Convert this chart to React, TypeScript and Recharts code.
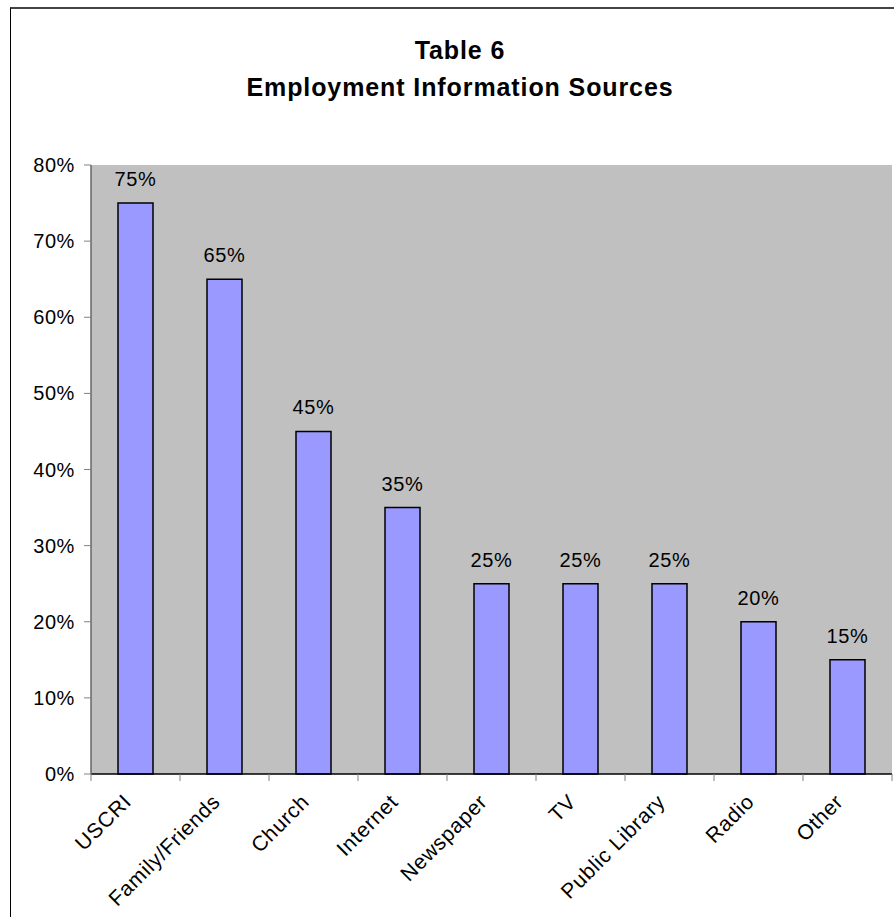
import { BarChart, Bar, XAxis, YAxis, CartesianGrid, LabelList } from 'recharts'

const sources = ['USCRI', 'Family/Friends', 'Church', 'Internet', 'Newspaper', 'TV', 'Public Library', 'Radio', 'Other']
const shares = [75, 65, 45, 35, 25, 25, 25, 20, 15]
const yTicks = [0, 10, 20, 30, 40, 50, 60, 70, 80]

const font = '"Liberation Sans", Arial, sans-serif'

const data = sources.map((name, i) => ({ name, value: shares[i] }))

// label rotated -45deg, plus tick marks on the category edges (excel style)
const SourceTick = (props: any) => {
	const { x, y, payload, index } = props
	const half = payload.offset || 0
	const px = x - 3
	const py = y + 29
	return (
		<g>
			<line x1={x - half} x2={x - half} y1={y} y2={y + 7} stroke="#808080" />
			{index === sources.length - 1 && <line x1={x + half} x2={x + half} y1={y} y2={y + 7} stroke="#808080" />}
			<text
				x={px}
				y={py}
				transform={`rotate(-45, ${px}, ${py})`}
				textAnchor="end"
				fontSize={21}
				letterSpacing={0.7}
				fontFamily={font}
				fill="#000"
			>
				{payload.value}
			</text>
		</g>
	)
}

const App = () => {
	return (
		<div style={{ position: 'relative', width: 894, height: 917, overflow: 'hidden', background: '#fff' }}>
			<style>{'body{margin:0;overflow:hidden}'}</style>
			{/* outer frame, only top and left edges show */}
			<div
				style={{
					position: 'absolute',
					left: 10,
					top: 7,
					width: 920,
					height: 940,
					borderLeft: '1.5px solid #000',
					borderTop: '2px solid #444',
				}}
			/>
			<div
				style={{
					position: 'absolute',
					left: 0,
					top: 32,
					width: 920,
					textAlign: 'center',
					fontFamily: font,
					fontWeight: 'bold',
					fontSize: 25,
					letterSpacing: 0.9,
					lineHeight: '37px',
					color: '#000',
				}}
			>
				Table 6
				<br />
				Employment Information Sources
			</div>
			<div style={{ position: 'absolute', left: 0, top: 0 }}>
				<BarChart width={894} height={917} data={data} margin={{ top: 165, right: 2, left: 0, bottom: 0 }}>
					<CartesianGrid fill="#C0C0C0" horizontal={false} vertical={false} />
					<XAxis
						dataKey="name"
						height={143}
						interval={0}
						tickSize={0}
						tickMargin={0}
						tickLine={false}
						axisLine={{ stroke: '#000', strokeWidth: 1.5 }}
						tick={<SourceTick />}
					/>
					<XAxis xAxisId="top" orientation="top" dataKey="name" height={0} tick={false} tickLine={false} axisLine={{ stroke: '#808080', strokeWidth: 1.5 }} />
					<YAxis
						width={91}
						domain={[0, 80]}
						ticks={yTicks}
						tickSize={7}
						tickMargin={9}
						tickFormatter={(v) => `${v}%`}
						tick={{ fontSize: 20, fill: '#000', fontFamily: font, letterSpacing: 0.6 }}
						tickLine={{ stroke: '#808080' }}
						axisLine={{ stroke: '#666', strokeWidth: 1.5 }}
					/>
					<YAxis yAxisId="right" orientation="right" width={0} tick={false} tickLine={false} axisLine={{ stroke: '#808080', strokeWidth: 1.5 }} />
					<Bar dataKey="value" fill="#9999FF" stroke="#000" strokeWidth={1.5} barSize={35} isAnimationActive={false}>
						<LabelList
							dataKey="value"
							position="top"
							offset={17}
							formatter={(v: any) => `${v}%`}
							style={{ fontSize: 20, fill: '#000', fontFamily: font, letterSpacing: 0.6 }}
						/>
					</Bar>
				</BarChart>
			</div>
		</div>
	)
}

export default App
